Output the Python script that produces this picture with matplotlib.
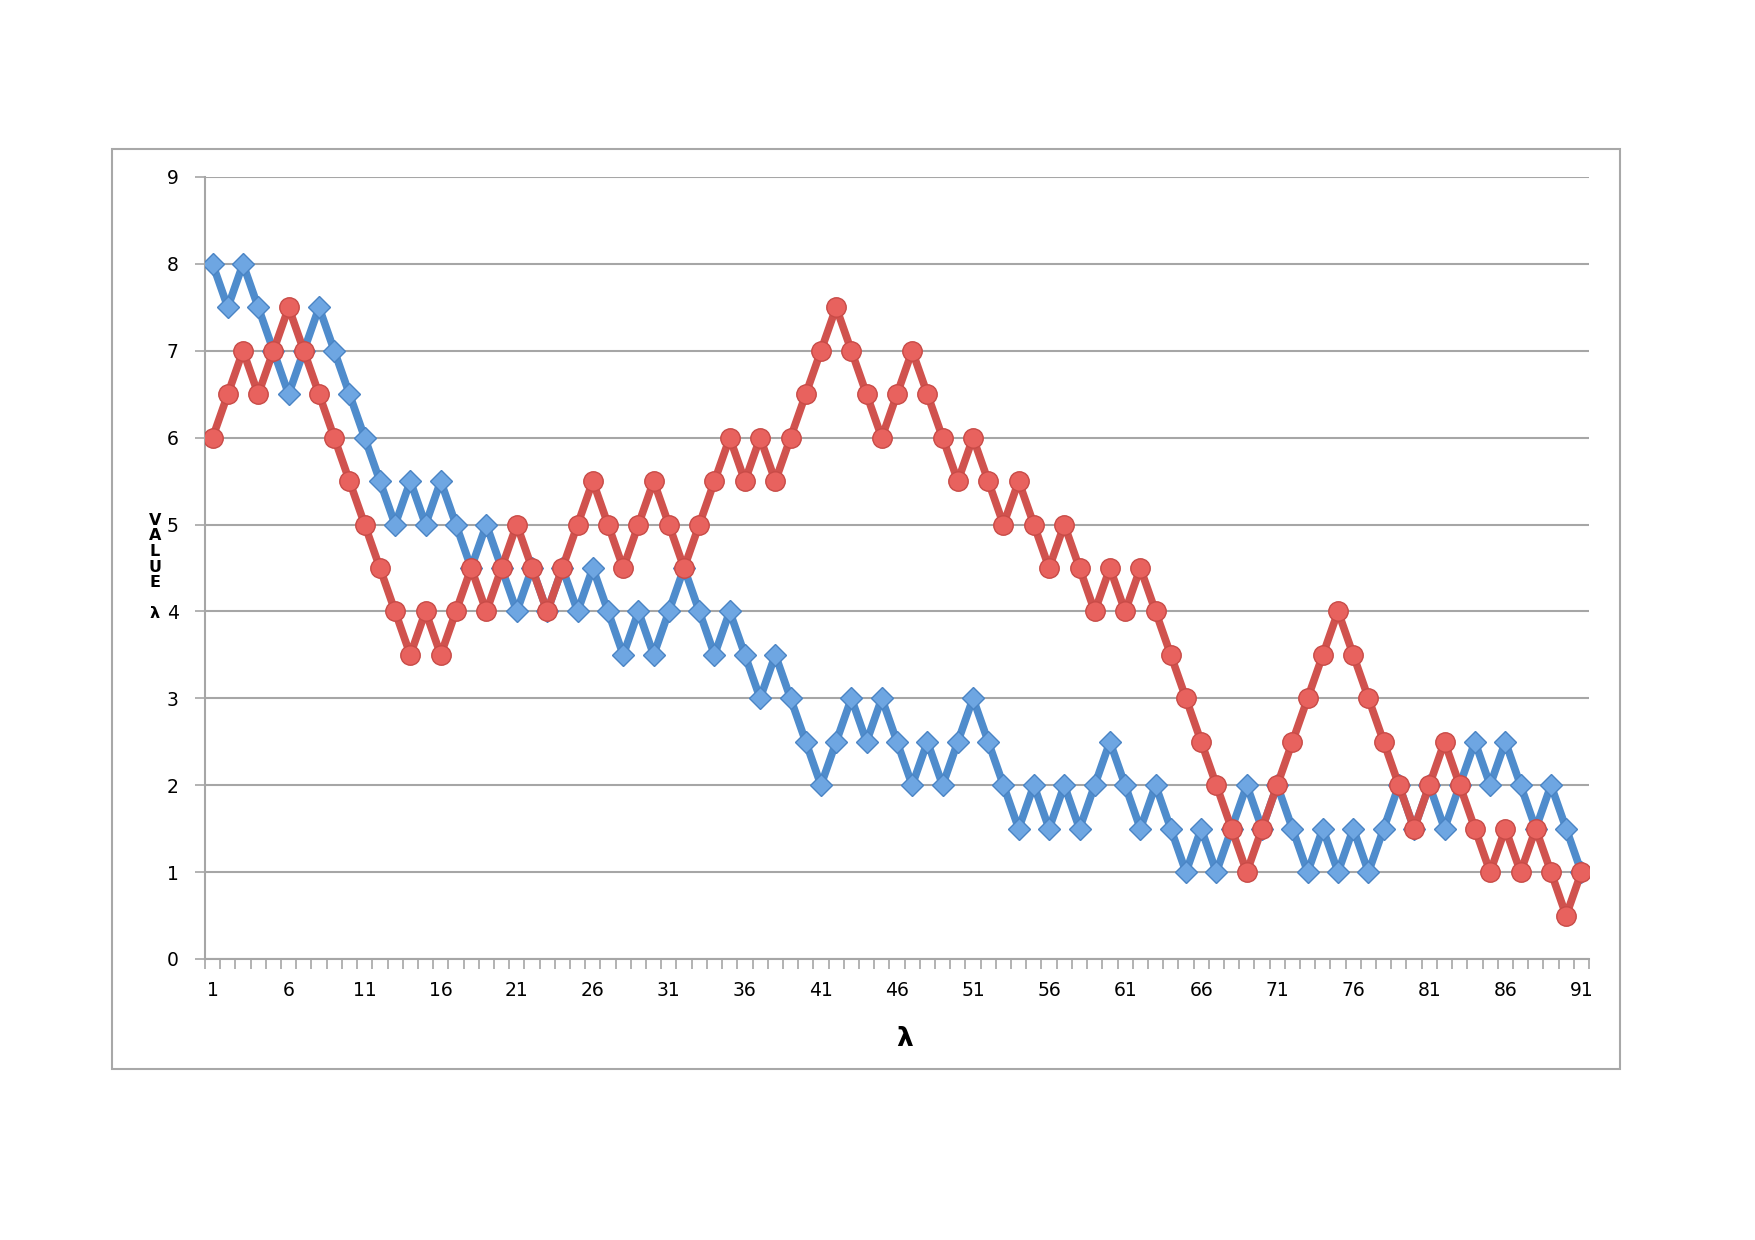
"""
    Two random-walk series against lambda, drawn in the old Excel look
"""
import numpy as np
import matplotlib
matplotlib.use("Agg")
import matplotlib.pyplot as plt
from matplotlib.patches import Rectangle

"""
    Data
"""
steps = list(range(1, 92))

blue_values = [8, 7.5, 8, 7.5, 7, 6.5, 7, 7.5, 7, 6.5,
               6, 5.5, 5, 5.5, 5, 5.5, 5, 4.5, 5, 4.5,
               4, 4.5, 4, 4.5, 4, 4.5, 4, 3.5, 4, 3.5,
               4, 4.5, 4, 3.5, 4, 3.5, 3, 3.5, 3, 2.5,
               2, 2.5, 3, 2.5, 3, 2.5, 2, 2.5, 2, 2.5,
               3, 2.5, 2, 1.5, 2, 1.5, 2, 1.5, 2, 2.5,
               2, 1.5, 2, 1.5, 1, 1.5, 1, 1.5, 2, 1.5,
               2, 1.5, 1, 1.5, 1, 1.5, 1, 1.5, 2, 1.5,
               2, 1.5, 2, 2.5, 2, 2.5, 2, 1.5, 2, 1.5,
               1]

red_values = [6, 6.5, 7, 6.5, 7, 7.5, 7, 6.5, 6, 5.5,
              5, 4.5, 4, 3.5, 4, 3.5, 4, 4.5, 4, 4.5,
              5, 4.5, 4, 4.5, 5, 5.5, 5, 4.5, 5, 5.5,
              5, 4.5, 5, 5.5, 6, 5.5, 6, 5.5, 6, 6.5,
              7, 7.5, 7, 6.5, 6, 6.5, 7, 6.5, 6, 5.5,
              6, 5.5, 5, 5.5, 5, 4.5, 5, 4.5, 4, 4.5,
              4, 4.5, 4, 3.5, 3, 2.5, 2, 1.5, 1, 1.5,
              2, 2.5, 3, 3.5, 4, 3.5, 3, 2.5, 2, 1.5,
              2, 2.5, 2, 1.5, 1, 1.5, 1, 1.5, 1, 0.5,
              1]

x_tick_labels = [str(v) for v in range(1, 92, 5)]
y_ticks = list(range(0, 10))

"""
    Figure
"""
fig = plt.figure(figsize=(17.55, 12.40), dpi=100)
fig.patch.set_facecolor("white")

# outer chart frame
fig.patches.append(Rectangle((112 / 1755, 1 - 1069 / 1240), (1620 - 112) / 1755, (1069 - 149) / 1240,
                             transform=fig.transFigure, fill=False, edgecolor="#a8a8a8", linewidth=1.5))

ax = fig.add_axes([205 / 1755, 1 - 959 / 1240, (1589 - 205) / 1755, (959 - 177) / 1240])

grid_col = "#a6a6a6"

ax.plot(steps, blue_values, color="#4f8ccc", linewidth=5.5, marker="D", markersize=11.5,
        markerfacecolor="#6ea6e2", markeredgecolor="#4a84c4", markeredgewidth=1, zorder=3)
ax.plot(steps, red_values, color="#d0524e", linewidth=5.5, marker="o", markersize=14,
        markerfacecolor="#e8625e", markeredgecolor="#c84b47", markeredgewidth=1, zorder=4)

ax.set_xlim(0.5, 91.5)
ax.set_ylim(0, 9)

ax.set_yticks(y_ticks)
ax.set_yticklabels([str(v) for v in y_ticks])
ax.yaxis.grid(True, color=grid_col, linewidth=1.5)
ax.set_axisbelow(True)

ax.set_xticks(range(1, 92, 5))
ax.set_xticklabels(x_tick_labels)
ax.set_xticks(np.arange(0.5, 92, 1), minor=True)

ax.tick_params(axis="x", which="major", length=0, pad=16, labelsize=13.5)
ax.tick_params(axis="x", which="minor", length=7, width=1.2, color=grid_col, direction="out")
ax.tick_params(axis="y", which="major", length=7, width=1.2, color=grid_col, pad=12, labelsize=13.5)

for side in ["top", "right"]:
    ax.spines[side].set_visible(False)
for side in ["left", "bottom"]:
    ax.spines[side].set_color(grid_col)
    ax.spines[side].set_linewidth(1.5)

# stacked axis titles
fig.text(155 / 1755, 1 - 567 / 1240, "V\nA\nL\nU\nE\n\nλ", ha="center", va="center",
         fontsize=11.5, fontweight="bold", linespacing=1.05)
fig.text(905 / 1755, 1 - 1039 / 1240, "λ", ha="center", va="center",
         fontsize=19, fontweight="bold")

fig.savefig("out.png", dpi=100)
